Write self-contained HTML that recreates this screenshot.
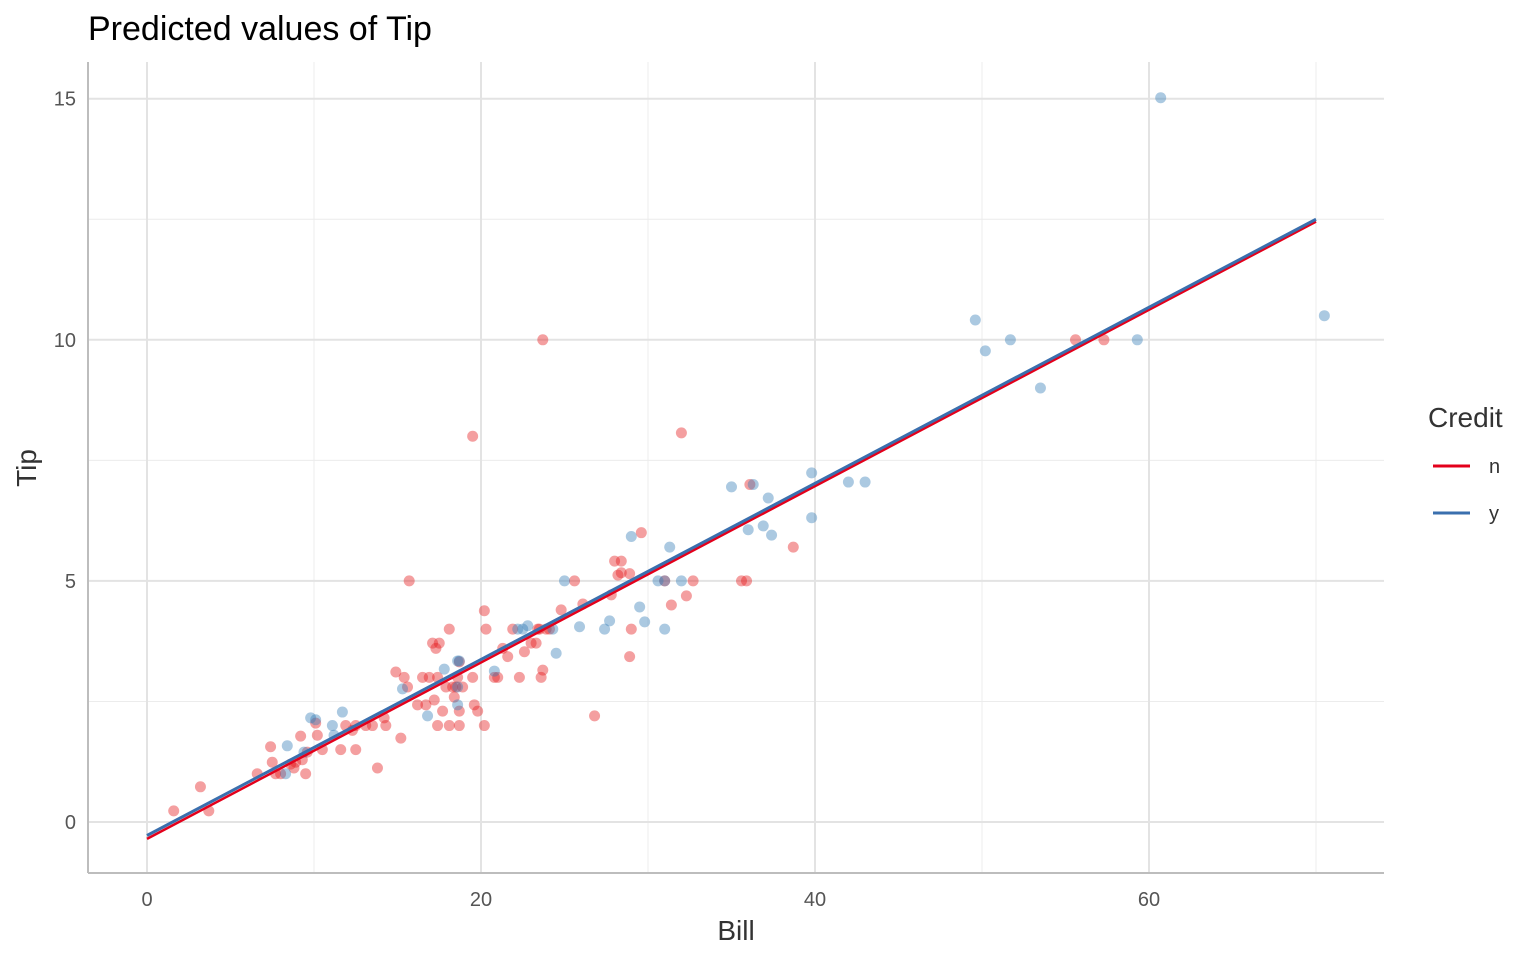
<!DOCTYPE html>
<html><head><meta charset="utf-8"><style>
body{margin:0;background:#fff;font-family:"Liberation Sans",sans-serif}
svg text{font-family:"Liberation Sans",sans-serif}
</style></head><body>
<svg id="chart" width="1536" height="960" xmlns="http://www.w3.org/2000/svg">
<rect width="1536" height="960" fill="#fff"/>
<g id="grid"></g><g id="pts"></g><g id="lines"></g><g id="axes"></g>
<text x="88" y="40" font-size="34" fill="#000">Predicted values of Tip</text>
<text x="736" y="940" font-size="28" fill="#333" text-anchor="middle">Bill</text>
<text transform="translate(36,468) rotate(-90)" font-size="28" fill="#333" text-anchor="middle">Tip</text>
<g>
<text x="1428" y="427" font-size="28" fill="#333">Credit</text>
<line x1="1433" y1="466" x2="1470" y2="466" stroke="#E3001B" stroke-width="3"/>
<text x="1489" y="473" font-size="20" fill="#333">n</text>
<line x1="1433" y1="513" x2="1470" y2="513" stroke="#3A6FAE" stroke-width="3"/>
<text x="1489" y="520" font-size="20" fill="#333">y</text>
</g>
</svg>
<script>
const xTicks=[0,20,40,60];
const yTicks=[0,5,10,15];
const xMinor=[10,30,50,70];
const yMinor=[2.5,7.5,12.5];
const nBill=[1.6,3.2,3.7,6.6,7.4,7.5,7.7,8.0,8.6,8.8,8.9,9.2,9.3,9.5,9.6,10.1,10.2,10.5,11.6,11.9,12.3,12.5,12.5,13.1,13.5,13.8,14.2,14.3,14.9,15.2,15.4,15.6,15.7,16.2,16.5,16.7,16.9,17.1,17.2,17.3,17.4,17.4,17.5,17.7,17.9,18.1,18.1,18.3,18.4,18.5,18.6,18.7,18.7,18.7,18.9,19.5,19.5,19.6,19.8,20.2,20.3,20.2,20.8,21.0,21.3,21.6,21.9,22.3,22.6,23.0,23.3,23.4,23.5,23.7,23.6,23.7,23.9,24.1,24.8,25.6,26.1,26.8,27.8,28.0,28.2,28.4,28.4,28.9,28.9,29.0,29.6,31.0,31.4,32.0,32.3,32.7,35.6,35.9,36.1,38.7,55.6,57.3];
const nTip=[0.23,0.73,0.23,1.0,1.56,1.24,1.0,1.0,1.2,1.12,1.24,1.78,1.29,1.0,1.45,2.05,1.8,1.5,1.5,2.0,1.9,2.0,1.5,2.0,2.0,1.12,2.16,2.0,3.11,1.74,3.0,2.8,5.0,2.43,3.0,2.43,3.0,3.71,2.53,3.6,2.0,3.0,3.71,2.3,2.8,2.0,4.0,2.8,2.59,2.8,3.0,3.32,2.3,2.0,2.8,8.0,3.0,2.43,2.3,4.38,4.0,2.0,3.0,3.0,3.6,3.43,4.0,3.0,3.53,3.71,3.71,4.0,4.0,3.15,3.0,10.0,4.0,4.0,4.4,5.0,4.52,2.2,4.71,5.41,5.12,5.17,5.41,5.15,3.43,4.0,6.0,5.0,4.5,8.07,4.69,5.0,5.0,5.0,7.0,5.7,10.0,10.0];
const yBill=[8.3,8.4,9.4,9.8,10.1,11.1,11.2,11.7,15.3,16.8,17.8,18.6,18.7,18.6,18.6,20.8,22.2,22.5,22.8,24.3,24.5,25.0,25.9,27.4,27.7,29.0,29.5,29.8,30.6,31.0,31.0,31.3,32.0,35.0,36.0,36.3,36.9,37.2,37.4,39.8,39.8,42.0,43.0,49.6,50.2,51.7,53.5,59.3,60.7,70.5];
const yTip=[1.0,1.58,1.45,2.16,2.12,2.0,1.8,2.28,2.76,2.2,3.17,3.34,3.34,2.43,2.8,3.13,4.0,4.0,4.07,4.0,3.5,5.0,4.05,4.0,4.17,5.92,4.46,4.15,5.0,5.0,4.0,5.7,5.0,6.95,6.06,7.0,6.14,6.72,5.95,7.24,6.31,7.05,7.05,10.41,9.77,10.0,9.0,10.0,15.02,10.5];
const fitX=[0,70];
const fitN=[-0.35,12.45];
const fitY=[-0.28,12.5];
const NS="http://www.w3.org/2000/svg";
const L=88,R=1384,T=62,B=873;
const sx=v=>147+v*16.7;
const sy=v=>822-v*48.22;
function mk(tag,attrs,parent){const e=document.createElementNS(NS,tag);for(const k in attrs)e.setAttribute(k,attrs[k]);document.getElementById(parent).appendChild(e);return e;}
xMinor.forEach(v=>{const e=mk('line',{x1:sx(v),x2:sx(v),y1:T,y2:B,stroke:'#ececec','stroke-width':1},'grid');

});
yMinor.forEach(v=>{const e=mk('line',{x1:L,x2:R,y1:sy(v),y2:sy(v),stroke:'#ececec','stroke-width':1},'grid');

});
xTicks.forEach(v=>{const e=mk('line',{x1:sx(v),x2:sx(v),y1:T,y2:B,stroke:'#e3e3e3','stroke-width':2},'grid');


const t=mk('text',{x:sx(v),y:906,'font-size':20,fill:'#555','text-anchor':'middle'},'axes');t.textContent=v;

});
yTicks.forEach(v=>{const e=mk('line',{x1:L,x2:R,y1:sy(v),y2:sy(v),stroke:'#e3e3e3','stroke-width':2},'grid');


const t=mk('text',{x:L-12,y:sy(v)+7,'font-size':20,fill:'#555','text-anchor':'end'},'axes');t.textContent=v;

});
const ax=mk('line',{x1:L,x2:R,y1:B,y2:B,stroke:'#bdbdbd','stroke-width':2},'axes');


const ay=mk('line',{x1:L,x2:L,y1:T,y2:B,stroke:'#bdbdbd','stroke-width':2},'axes');


nBill.forEach((b,i)=>{const c=mk('circle',{cx:sx(b),cy:sy(nTip[i]),r:5.5,fill:'#E41A1C','fill-opacity':0.42},'pts');

});
yBill.forEach((b,i)=>{const c=mk('circle',{cx:sx(b),cy:sy(yTip[i]),r:5.5,fill:'#377EB8','fill-opacity':0.42},'pts');

});
const ln=mk('line',{x1:sx(fitX[0]),y1:sy(fitN[0]),x2:sx(fitX[1]),y2:sy(fitN[1]),stroke:'#E3001B','stroke-width':2.5},'lines');


const ly=mk('line',{x1:sx(fitX[0]),y1:sy(fitY[0]),x2:sx(fitX[1]),y2:sy(fitY[1]),stroke:'#3A6FAE','stroke-width':3},'lines');


</script>
</body></html>
